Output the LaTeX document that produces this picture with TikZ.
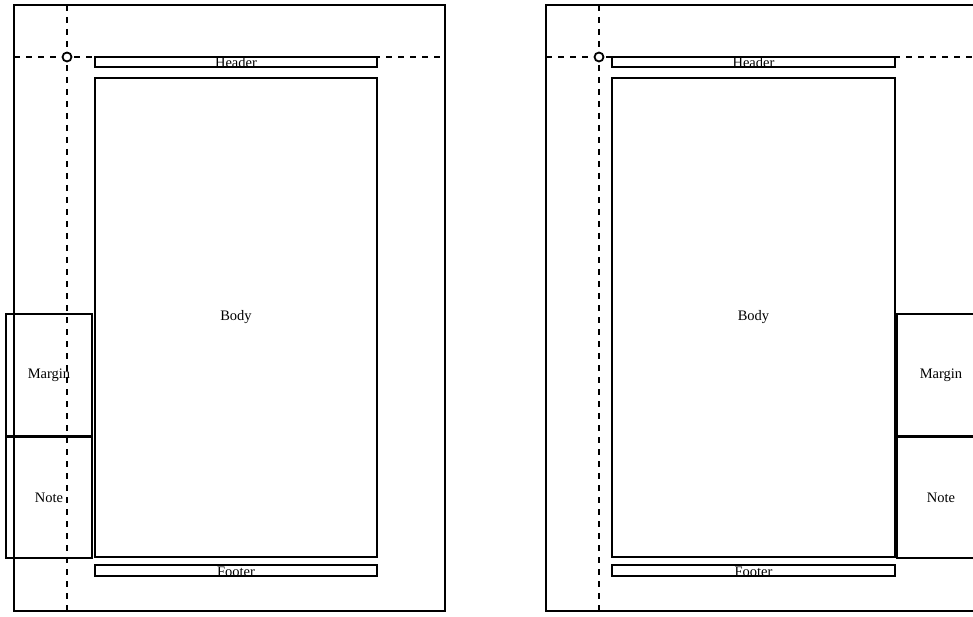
\documentclass[tikz,border=0pt]{standalone}
\usepackage{fontspec}
\setmainfont{Liberation Serif}
\begin{document}
\begin{tikzpicture}[x=1pt,y=-1pt,
  frame/.style={draw=black, line width=2pt, inner sep=0pt, outer sep=0pt, anchor=north west, font=\fontsize{14.5}{16}\selectfont},
  guide/.style={draw=black, line width=2pt, dash pattern=on 6pt off 6pt},
  pin/.style={circle, draw=black, fill=white, line width=1.8pt, minimum size=9pt, inner sep=0pt},
  lbl/.style={inner sep=0pt, anchor=base, font=\fontsize{14.5}{16}\selectfont}]
\useasboundingbox (0,0) rectangle (973,617);
% ---------- left page ----------
\node[frame, minimum width=431pt, minimum height=606pt] (lpage) at (14,5) {};
\node[frame, minimum width=282pt, minimum height=10pt] (lhead) at (95,57) {};
\node[frame, minimum width=282pt, minimum height=479pt] (lbody) at (95,78) {Body};
\node[frame, minimum width=282pt, minimum height=11pt] (lfoot) at (95,565) {};
\node[frame, minimum width=86pt, minimum height=122pt] (lmarg) at (6,314) {Margin};
\node[frame, minimum width=86pt, minimum height=121pt] (lnote) at (6,437) {Note};
\node[lbl] (lheadt) at (236,67.5) {Header};
\node[lbl] (lfoott) at (236,576.5) {Footer};
\coordinate (lhl) at (14,57);
\coordinate (lhr) at (445,57);
\coordinate (lvt) at (67,5);
\coordinate (lvb) at (67,611);
\draw[guide] (lhl) -- (lhr);
\draw[guide] (lvt) -- (lvb);
\node[pin] (lpin) at (67,57) {};
% ---------- right page ----------
\node[frame, minimum width=431pt, minimum height=606pt] (rpage) at (546,5) {};
\node[frame, minimum width=283pt, minimum height=10pt] (rhead) at (612,57) {};
\node[frame, minimum width=283pt, minimum height=479pt] (rbody) at (612,78) {Body};
\node[frame, minimum width=283pt, minimum height=11pt] (rfoot) at (612,565) {};
\node[frame, minimum width=88pt, minimum height=122pt] (rmarg) at (897,314) {Margin};
\node[frame, minimum width=88pt, minimum height=121pt] (rnote) at (897,437) {Note};
\node[lbl] (rheadt) at (753.5,67.5) {Header};
\node[lbl] (rfoott) at (753.5,576.5) {Footer};
\coordinate (rhl) at (546,57);
\coordinate (rhr) at (977,57);
\coordinate (rvt) at (599,5);
\coordinate (rvb) at (599,611);
\draw[guide] (rhl) -- (rhr);
\draw[guide] (rvt) -- (rvb);
\node[pin] (rpin) at (599,57) {};
\end{tikzpicture}
\end{document}
